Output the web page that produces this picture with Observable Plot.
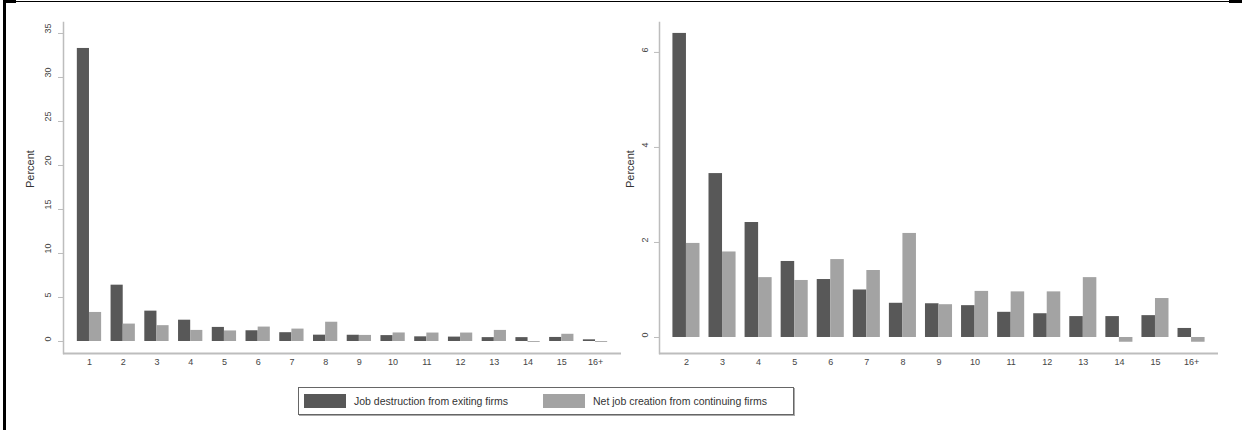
<!DOCTYPE html>
<html>
<head>
<meta charset="utf-8">
<script src="https://cdn.jsdelivr.net/npm/d3@7"></script>
<script src="https://cdn.jsdelivr.net/npm/@observablehq/plot@0.6"></script>
<style>
  html, body { margin: 0; padding: 0; background: #fff; }
  #page { position: relative; width: 1242px; height: 430px; overflow: hidden;
          font-family: "Liberation Sans", Arial, sans-serif; background: #fff; }
  .edge-left { position: absolute; left: 3px; top: 0; width: 3px; height: 430px; background: #000; }
  .edge-top { position: absolute; left: 3px; top: 1px; width: 1239px; height: 1px; background: #000; }
  .stub-l { position: absolute; left: 3px; top: 0; width: 13px; height: 3px; background: #000; }
  .stub-r { position: absolute; left: 1229px; top: 0; width: 13px; height: 3px; background: #000; }
  #left { position: absolute; left: 0; top: 0; }
  #right { position: absolute; left: 600px; top: 0; }
  #legend { position: absolute; left: 298px; top: 387px; width: 494px; height: 26px;
            border: 1px solid #666; box-shadow: 1px 1px 0 #aaa; background: #fff;
            font-size: 10.5px; color: #333; }
  .item { position: absolute; top: 6px; display: flex; align-items: center; white-space: nowrap; }
  .swatch { width: 42px; height: 14px; margin-right: 8px; }
</style>
</head>
<body>
<div id="page">
  <div class="edge-left"></div>
  <div class="edge-top"></div>
  <div class="stub-l"></div>
  <div class="stub-r"></div>
  <div id="left"></div>
  <div id="right"></div>
  <div id="legend"></div>
</div>
<script>
// Firm-size categories and the two series (percent)
const categories = ["1", "2", "3", "4", "5", "6", "7", "8", "9", "10", "11", "12", "13", "14", "15", "16+"];
const jobDestruction = [33.3, 6.4, 3.45, 2.42, 1.6, 1.22, 1.0, 0.72, 0.71, 0.67, 0.53, 0.5, 0.44, 0.44, 0.46, 0.19];
const netJobCreation = [3.3, 1.98, 1.8, 1.26, 1.2, 1.64, 1.41, 2.19, 0.69, 0.97, 0.96, 0.96, 1.26, -0.1, 0.82, -0.1];
const seriesNames = ["Job destruction from exiting firms", "Net job creation from continuing firms"];
const seriesColors = ["#585858", "#a3a3a3"];
const leftTicks = [0, 5, 10, 15, 20, 25, 30, 35];
const rightTicks = [0, 2, 4, 6];

const rows = categories.map((category, i) => ({
  category,
  destruction: jobDestruction[i],
  creation: netJobCreation[i]
}));

const axisGray = "#bdbdbd";
const font = "'Liberation Sans', Arial, sans-serif";

function panel({data, yDomain, ticks, width, marginLeft, marginRight, paddingInner, paddingOuter, tickDx, labelDx}) {
  const height = 380, marginTop = 22, marginBottom = 27;
  const cats = data.map(d => d.category);
  // each pair of bars shares one band: half of it per series
  const half = d3.scaleBand()
    .domain(cats)
    .range([marginLeft, width - marginRight])
    .paddingInner(paddingInner)
    .paddingOuter(paddingOuter)
    .bandwidth() / 2;
  return Plot.plot({
    width, height, marginTop, marginBottom, marginLeft, marginRight,
    style: {fontFamily: font, fontSize: "9px", color: "#444", background: "transparent", overflow: "visible"},
    x: {type: "band", domain: cats, paddingInner, paddingOuter, round: false, label: null},
    y: {domain: yDomain, label: null},
    marks: [
      Plot.barY(data, {x: "category", y: "destruction", fill: seriesColors[0], insetRight: half}),
      Plot.barY(data, {x: "category", y: "creation", fill: seriesColors[1], insetLeft: half}),
      Plot.ruleY([yDomain[0]], {stroke: axisGray, strokeWidth: 2}),
      Plot.frame({anchor: "left", stroke: axisGray, strokeWidth: 1.5}),
      Plot.axisX({tickSize: 0, tickPadding: 5, label: null, fill: "#444"}),
      Plot.axisY(ticks, {tickSize: 5, stroke: axisGray, tickFormat: () => "", label: null}),
      Plot.text(ticks, {y: d => d, text: d => String(d), frameAnchor: "left", dx: tickDx, rotate: -90, fill: "#444"}),
      Plot.text(["Percent"], {text: d => d, frameAnchor: "left", dx: labelDx, rotate: -90, fontSize: 11, fill: "#333"})
    ]
  });
}

document.getElementById("left").append(panel({
  data: rows,
  yDomain: [-1.364, 36.25],
  ticks: leftTicks,
  width: 621, marginLeft: 63, marginRight: 0,
  paddingInner: 0.28, paddingOuter: 0.41,
  tickDx: -15, labelDx: -33
}));

document.getElementById("right").append(panel({
  data: rows.slice(1),
  yDomain: [-0.337, 6.63],
  ticks: rightTicks,
  width: 642, marginLeft: 59, marginRight: 24,
  paddingInner: 0.25, paddingOuter: 0.372,
  tickDx: -14, labelDx: -29
}));

// Legend
const legend = document.getElementById("legend");
[5, 244].forEach((left, i) => {
  const item = document.createElement("div");
  item.className = "item";
  item.style.left = left + "px";
  const sw = document.createElement("div");
  sw.className = "swatch";
  sw.style.background = seriesColors[i];
  const label = document.createElement("span");
  label.textContent = seriesNames[i];
  item.append(sw, label);
  legend.append(item);
});
</script>
</body>
</html>
